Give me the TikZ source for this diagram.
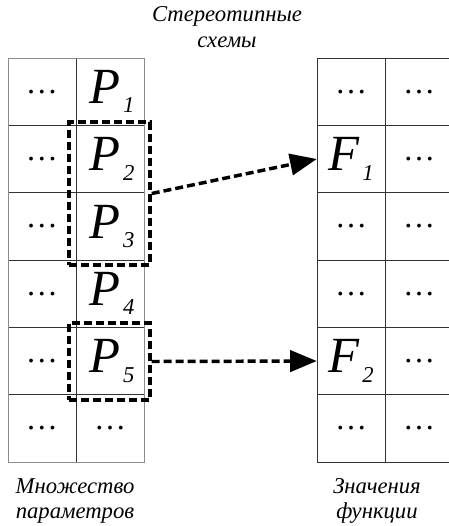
\documentclass[tikz,border=0pt]{standalone}
\usepackage{fontspec}
\setmainfont{Liberation Serif}
\usetikzlibrary{arrows.meta}
\usetikzlibrary{positioning}
\definecolor{gridgray}{rgb}{0.55,0.55,0.55}
\definecolor{linegray}{rgb}{0.2,0.2,0.2}
\newcommand{\psym}[2]{\textit{#1}\kern2pt\raisebox{-7pt}{\fontsize{17}{17}\selectfont\textit{#2}}}

\begin{document}
\begin{tikzpicture}[x=0.75pt,y=-0.75pt,
  cell/.style={minimum width=51pt,minimum height=50.5pt,inner sep=0pt},
  sym/.style={cell,font=\fontsize{38}{38}\selectfont},
  dots/.style={cell,font=\fontsize{24}{24}\selectfont},
  caption/.style={align=center,font=\fontsize{17}{19}\selectfont\itshape},
  group/.style={draw,line width=2.6pt,dash pattern=on 6pt off 3pt,inner sep=0pt},
  flow/.style={line width=2.6pt,dash pattern=on 6pt off 3pt,-{Triangle[length=20pt,width=16pt]}}]
\useasboundingbox (0,0) rectangle (449,526);
% left table
\foreach \y in {1,...,5}
\draw[color=linegray] (8,{58+67.33*\y}) -- (144,{58+67.33*\y});
\draw[color=linegray] (76,58) -- (76,462);
\draw[color=gridgray] (8,58) rectangle (144,462);
% right table
\foreach \y in {0,...,6}
\draw[color=linegray] (317,{58+67.33*\y}) -- (449,{58+67.33*\y});
\draw[color=linegray] (317,58) -- (317,462);
\draw[color=linegray] (385,58) -- (385,462);
% cells
\foreach \i in {1,...,6}
\node[dots] (a\i) at (42,{58+67.33*(\i-0.5)}) {\ldots};
\foreach \i in {1,...,5}
\node[sym] (p\i) at (112,{58+67.33*(\i-0.5)}) {\psym{P}{\i}};
\node[dots] (p6) at (110,428.3) {\ldots};
\foreach \i in {1,3,4,6}
\node[dots] (f\i) at (351,{58+67.33*(\i-0.5)}) {\ldots};
\node[sym] (f2) at (351,159) {\psym{F}{1}};
\node[sym] (f5) at (351,361) {\psym{F}{2}};
\foreach \i in {1,...,6}
\node[dots] (g\i) at (419,{58+67.33*(\i-0.5)}) {\ldots};
% groups
\node[group,minimum width=60.75pt,minimum height=107pt] (s1) at (109.5,193.5) {};
\node[group,minimum width=60.75pt,minimum height=58pt] (s2) at (109.5,361.5) {};
\draw[flow] (s1.east) -- (f2.west);
\draw[flow] (s2.east) -- (f5.west);
% captions
\node[caption] (top) at (227,27) {Стереотипные\\схемы};
\node[caption] (left) at (75,501) {Множество\\параметров};
\node[caption] (right) at (377,501) {Значения\\функции};
\end{tikzpicture}
\end{document}
